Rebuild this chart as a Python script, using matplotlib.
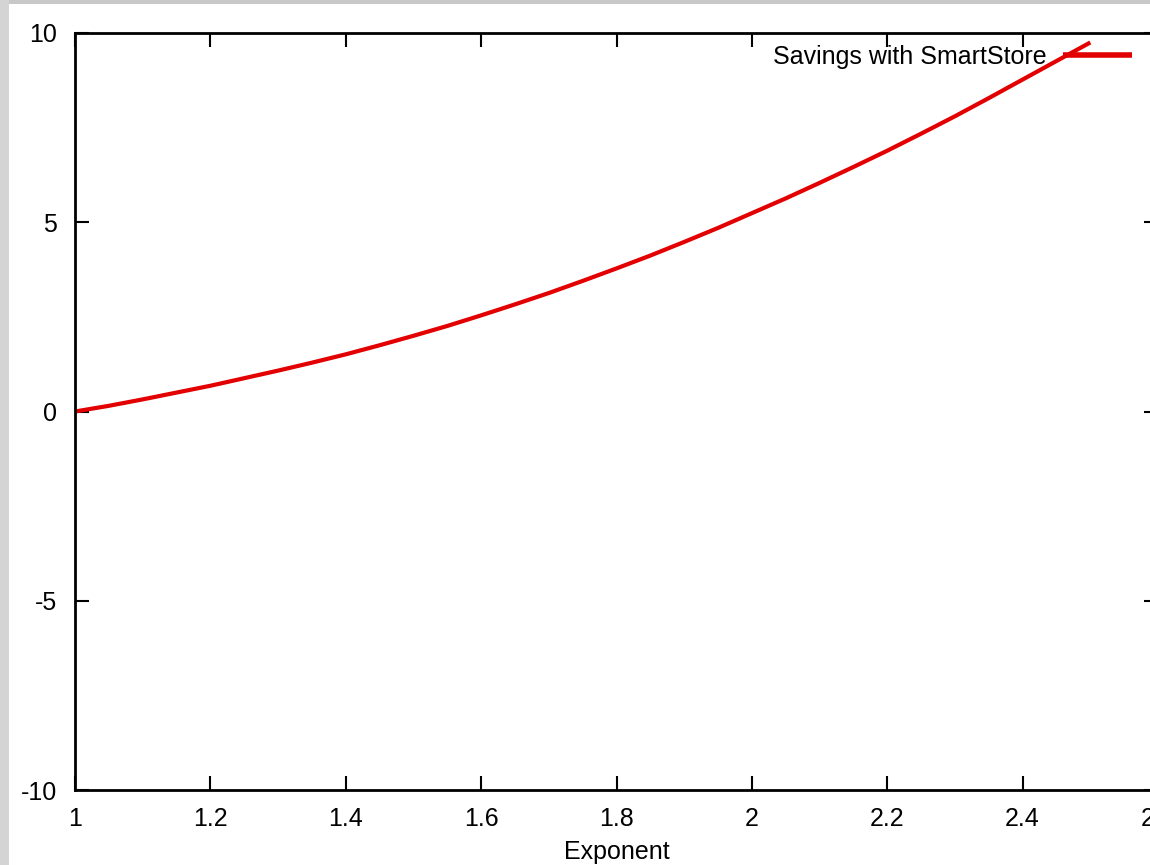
import matplotlib
matplotlib.use('Agg')
import matplotlib.pyplot as plt
from matplotlib.patches import Rectangle

plt.rcParams['font.family'] = ['Liberation Sans', 'DejaVu Sans']
plt.rcParams['axes.unicode_minus'] = False

# savings curve vs. exponent
exponent = [1.00, 1.05, 1.10, 1.15, 1.20, 1.25, 1.30, 1.35, 1.40, 1.45, 1.50,
            1.55, 1.60, 1.65, 1.70, 1.75, 1.80, 1.85, 1.90, 1.95, 2.00,
            2.05, 2.10, 2.15, 2.20, 2.25, 2.30, 2.35, 2.40, 2.45, 2.50]
savings = [0.00, 0.15, 0.32, 0.50, 0.68, 0.88, 1.08, 1.29, 1.51, 1.75, 2.00,
           2.26, 2.54, 2.83, 3.13, 3.45, 3.78, 4.12, 4.48, 4.85, 5.24,
           5.63, 6.04, 6.46, 6.89, 7.34, 7.80, 8.28, 8.77, 9.26, 9.75]
series_name = 'Savings with SmartStore'
xticks = [1, 1.2, 1.4, 1.6, 1.8, 2, 2.2, 2.4, 2.6]
xticklabels = ['1', '1.2', '1.4', '1.6', '1.8', '2', '2.2', '2.4', '2.6']
yticks = [-10, -5, 0, 5, 10]

W, H = 1150, 865
fig = plt.figure(figsize=(W / 100, H / 100), dpi=100, facecolor='white')

# grey window edge on top and left
fig.patches.append(Rectangle((0, 1 - 4 / H), 1, 4 / H, transform=fig.transFigure,
                             facecolor='#c8c8c8', edgecolor='none', zorder=0))
fig.patches.append(Rectangle((0, 0), 9 / W, 1, transform=fig.transFigure,
                             facecolor='#d4d4d4', edgecolor='none', zorder=0))

# plot box runs past the right edge of the canvas
left, right, top, bottom = 75, 1158, 33, 790
ax = fig.add_axes([left / W, (H - bottom) / H, (right - left) / W, (bottom - top) / H])

ax.plot(exponent, savings, color='#e30000', lw=3.0, solid_joinstyle='round',
        solid_capstyle='butt', label=series_name)

ax.set_xlim(1, 2.6)
ax.set_ylim(-10, 10)
ax.set_xticks(xticks)
ax.set_xticklabels(xticklabels)
ax.set_yticks(yticks)
ax.tick_params(direction='in', length=10, width=1.5, labelsize=18, colors='black',
               top=True, right=True)
ax.tick_params(axis='x', pad=12)
ax.tick_params(axis='y', pad=13)
for s in ax.spines.values():
    s.set_linewidth(2)
ax.set_xlabel('Exponent', fontsize=18, labelpad=7)

leg = ax.legend(loc='center right', bbox_to_anchor=(1132 / W, 1 - 57 / H),
                bbox_transform=fig.transFigure, frameon=False, markerfirst=False,
                fontsize=18, handlelength=2.76, handletextpad=0.64, borderpad=0,
                borderaxespad=0)
leg.get_lines()[0].set_linewidth(4)

fig.savefig('out.png', dpi=100, facecolor='white')
